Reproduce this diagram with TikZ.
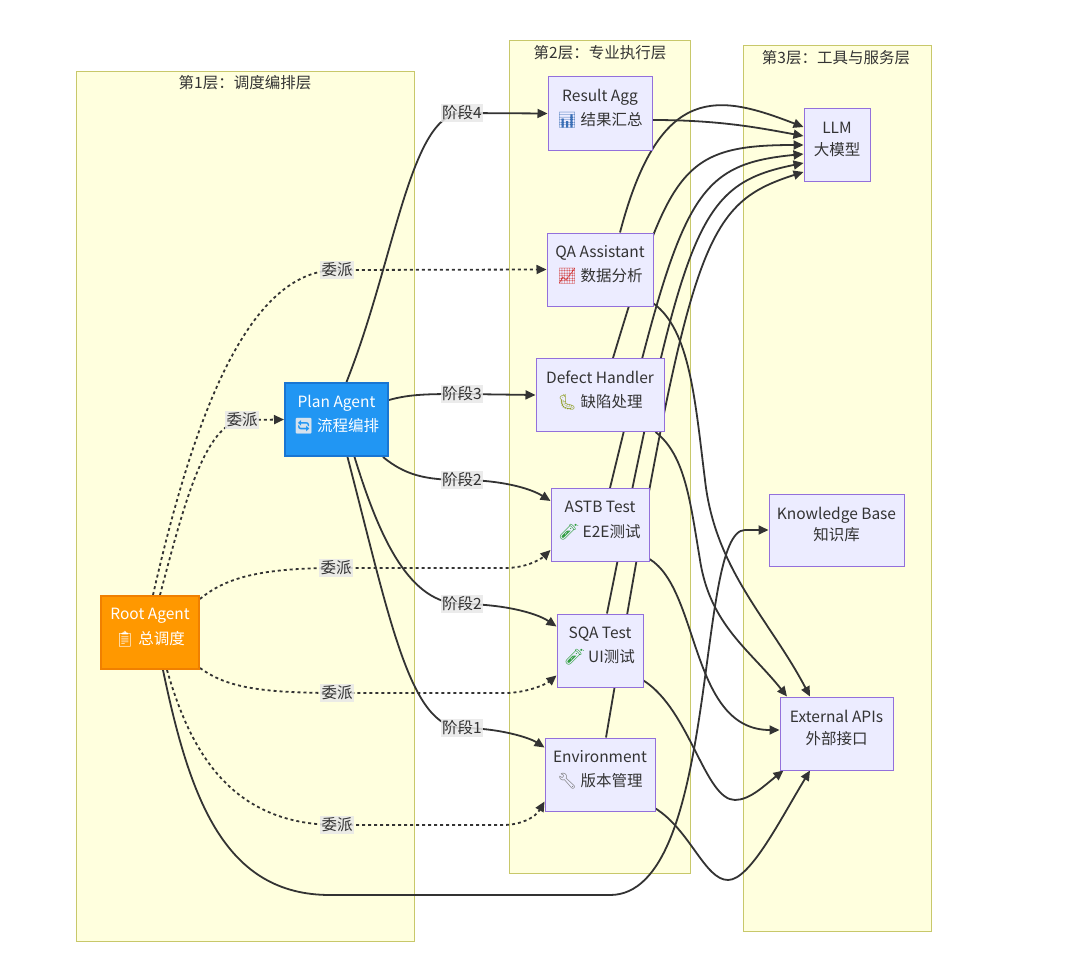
\documentclass[tikz,border=0pt]{standalone}
\usepackage{fontspec}
\setmainfont{Noto Sans CJK SC}
\newfontfamily\emo{Noto Emoji}
\usetikzlibrary{arrows.meta}

\definecolor{layerfill}{HTML}{FFFFDE}
\definecolor{layerline}{HTML}{C8C86A}
\definecolor{agentfill}{HTML}{ECECFF}
\definecolor{agentline}{HTML}{9370DB}
\definecolor{rootfill}{HTML}{FF9800}
\definecolor{rootline}{HTML}{F08000}
\definecolor{planfill}{HTML}{2196F3}
\definecolor{planline}{HTML}{1976D2}
\definecolor{wire}{HTML}{333333}
\definecolor{labelbg}{HTML}{E8E8E8}
\definecolor{barblue}{HTML}{3B6FB6}
\definecolor{trendred}{HTML}{D03A3A}
\definecolor{buggreen}{HTML}{8A9A1A}
\definecolor{tubegreen}{HTML}{2E9E3E}
\definecolor{toolgrey}{HTML}{777777}
\definecolor{syncgrey}{HTML}{D6E2EE}

\pgfdeclarelayer{back}
\pgfdeclarelayer{wires}
\pgfsetlayers{back,wires,main}

\tikzset{
  layerbox/.style={draw=layerline, fill=layerfill, line width=1pt},
  layertitle/.style={text=wire, inner sep=0pt, font=\fontsize{15.5}{18}\selectfont},
  agent/.style={draw=agentline, fill=agentfill, line width=1pt, align=center,
    inner sep=0pt, minimum height=73pt, text=wire, font=\fontsize{15.5}{24.5}\selectfont,
    execute at end node={\rule[-12pt]{0pt}{12pt}}},
  rootbox/.style={agent, draw=rootline, fill=rootfill, line width=2pt, text=white},
  planbox/.style={agent, draw=planline, fill=planfill, line width=2pt, text=white},
  flow/.style={draw=wire, line width=1.8pt, -{Triangle[length=10pt,width=9pt]}},
  assign/.style={flow, dash pattern=on 3pt off 3pt},
  elabel/.style={fill=labelbg, fill opacity=0.85, text opacity=1, text=wire,
    inner sep=1.5pt, font=\fontsize{15.5}{18}\selectfont}
}

\begin{document}
\begin{tikzpicture}[x=1pt,y=-1pt]
  \useasboundingbox (0,0) rectangle (1080,974);
  \begin{pgfonlayer}{back}
    \fill[white] (0,0) rectangle (1080,974);
    \draw[layerbox] (76,72) rectangle (414,941);
    \draw[layerbox] (509,41) rectangle (690,873);
    \draw[layerbox] (743,46) rectangle (931,931);
  \end{pgfonlayer}
  \node[layertitle] (t1) at (245,83) {第1层：调度编排层};
  \node[layertitle] (t2) at (600,53) {第2层：专业执行层};
  \node[layertitle] (t3) at (836,58) {第3层：工具与服务层};

  % layer 1
  \node[rootbox, minimum width=98pt] (root) at (150,632.5) {Root Agent\\{\emo 📋}\ 总调度};
  \node[planbox, minimum width=103pt] (plan) at (336.5,419.5) {Plan Agent\\{\emo\color{syncgrey}🔄}\ 流程编排};
  % layer 2
  \node[agent, minimum width=104pt] (agg) at (600,113.5) {Result Agg\\{\emo\color{barblue}📊}\ 结果汇总};
  \node[agent, minimum width=106pt] (qa) at (600,269.5) {QA Assistant\\{\emo\color{trendred}📈}\ 数据分析};
  \node[agent, minimum width=128pt] (defect) at (600,395) {Defect Handler\\{\emo\color{buggreen}🐛}\ 缺陷处理};
  \node[agent, minimum width=98pt] (astb) at (600,525) {ASTB Test\\{\emo\color{tubegreen}🧪}\ E2E测试};
  \node[agent, minimum width=86pt] (sqa) at (600,650.5) {SQA Test\\{\emo\color{tubegreen}🧪}\ UI测试};
  \node[agent, minimum width=110pt] (env) at (600,774.5) {Environment\\{\emo\color{toolgrey}🔧}\ 版本管理};
  % layer 3
  \node[agent, minimum width=66pt, minimum height=72pt] (llm) at (837,145) {LLM\\[-3pt]大模型};
  \node[agent, minimum width=135pt, minimum height=72pt] (kb) at (836.5,530) {Knowledge Base\\[-3pt]知识库};
  \node[agent, minimum width=113pt] (ext) at (836.5,733.5) {External APIs\\[-3pt]外部接口};

  \begin{pgfonlayer}{wires}
    % dispatch from root
    \draw[assign] ([xshift=10pt]root.north) .. controls (185,500) and (205,425) .. (242,420) node[elabel] (w1) {委派} -- (plan.west);
    \draw[assign] ([xshift=3pt]root.north) .. controls (195,410) and (250,270) .. (337,270) node[elabel] (w2) {委派} -- (qa.west);
    \draw[assign] ([yshift=-4pt]root.north east) .. controls (225,578) and (260,568) .. (336,568) node[elabel] (w3) {委派}
      -- (505,568) .. controls (525,568) and (540,560) .. ([yshift=12pt]astb.south west);
    \draw[assign] ([yshift=2pt]root.south east) .. controls (225,686) and (255,693) .. (337,693) node[elabel] (w4) {委派}
      -- (505,693) .. controls (525,693) and (545,685) .. ([yshift=12pt]sqa.south west);
    \draw[assign] ([xshift=17pt]root.south) .. controls (190,750) and (230,825) .. (337,825) node[elabel] (w5) {委派}
      -- (503,825) .. controls (520,825) and (535,818) .. ([yshift=10pt]env.south west);
    \draw[flow] ([xshift=13pt]root.south) .. controls (190,800) and (225,895) .. (330,895)
      -- (610,895) .. controls (720,895) and (695,530) .. (745,530) -- (kb.west);
    % phases from plan
    \draw[flow] ([xshift=10pt]plan.north) .. controls (395,260) and (410,113) .. (462,113) node[elabel] (p4) {阶段4} -- (agg.west);
    \draw[flow] ([yshift=-18pt]plan.north east) .. controls (410,394) and (430,394) .. (462,394) node[elabel] (p3) {阶段3} -- (defect.west);
    \draw[flow] ([xshift=-6pt]plan.south east) .. controls (405,475) and (425,480) .. (462,480) node[elabel] (p2a) {阶段2}
      .. controls (500,480) and (530,488) .. ([yshift=-13pt]astb.north west);
    \draw[flow] ([xshift=18pt]plan.south) .. controls (380,540) and (410,604) .. (462,604) node[elabel] (p2b) {阶段2}
      .. controls (500,604) and (535,612) .. ([yshift=-13pt]sqa.north west);
    \draw[flow] ([xshift=11pt]plan.south) .. controls (390,620) and (410,728) .. (462,728) node[elabel] (p1) {阶段1}
      .. controls (500,728) and (530,738) .. ([yshift=-10pt]env.north west);
    % into the model
    \draw[flow] ([yshift=-6.5pt]agg.east) .. controls (720,120) and (760,128) .. ([yshift=9pt]llm.west);
    \draw[flow] ([xshift=20pt]qa.north) .. controls (660,80) and (720,95) .. ([yshift=18pt]llm.west);
    \draw[flow] ([xshift=13pt]defect.north) .. controls (670,170) and (680,145) .. (llm.west);
    \draw[flow] ([xshift=10pt]astb.north) .. controls (680,200) and (690,165) .. ([yshift=-9pt]llm.west);
    \draw[flow] ([xshift=7pt]sqa.north) .. controls (685,225) and (695,185) .. ([yshift=-18pt]llm.west);
    \draw[flow] ([xshift=6pt]env.north) .. controls (690,245) and (700,205) .. ([yshift=-27pt]llm.west);
    % into the APIs
    \draw[flow] ([yshift=3pt]qa.south east) .. controls (690,330) and (695,400) .. (705,480)
      .. controls (715,570) and (770,620) .. ([xshift=-26.5pt]ext.north);
    \draw[flow] ([xshift=-9pt]defect.south east) .. controls (685,455) and (690,500) .. (700,560)
      .. controls (710,625) and (750,650) .. ([xshift=-49.5pt]ext.north);
    \draw[flow] ([yshift=3pt]astb.south east) .. controls (700,590) and (690,730) .. ([yshift=3.5pt]ext.west);
    \draw[flow] ([yshift=7pt]sqa.south east) .. controls (690,710) and (705,800) .. (735,800)
      .. controls (750,800) and (765,785) .. ([xshift=-53pt]ext.south);
    \draw[flow] ([yshift=3pt]env.south east) .. controls (690,830) and (705,880) .. (728,880)
      .. controls (750,880) and (780,820) .. ([xshift=-26.5pt]ext.south);
  \end{pgfonlayer}
\end{tikzpicture}
\end{document}
